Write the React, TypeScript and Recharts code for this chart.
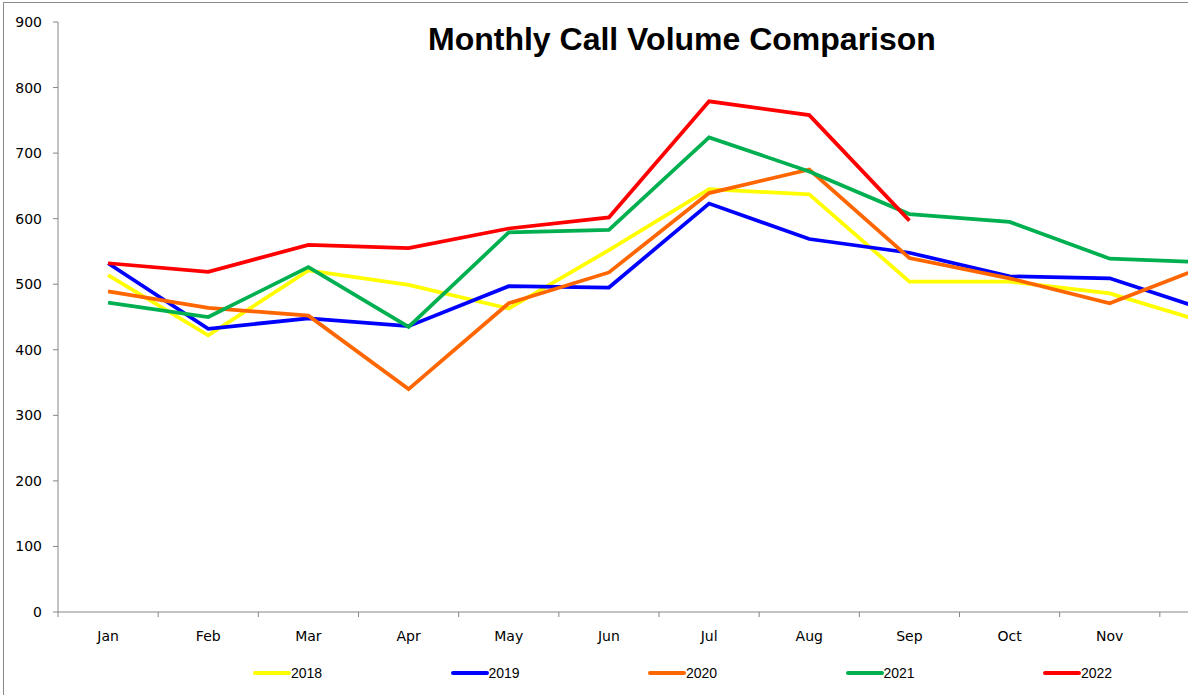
import { Legend, Line, LineChart, XAxis, YAxis } from "recharts";

const MONTHS = ["Jan", "Feb", "Mar", "Apr", "May", "Jun", "Jul", "Aug", "Sep", "Oct", "Nov", "Dec"];
const Y_TICKS = [0, 100, 200, 300, 400, 500, 600, 700, 800, 900];
const X_TICKS = [0, 1, 2, 3, 4, 5, 6, 7, 8, 9, 10, 11, 12];

const Y2018 = [514, 422, 521, 499, 463, 552, 645, 637, 504, 504, 486, 440];
const Y2019 = [532, 432, 448, 436, 497, 495, 623, 569, 548, 512, 509, 459];
const Y2020 = [489, 464, 452, 340, 471, 518, 639, 675, 540, 509, 471, 530];
const Y2021 = [472, 450, 526, 435, 579, 583, 724, 672, 607, 595, 539, 533];
const Y2022 = [532, 519, 560, 555, 585, 602, 779, 758, 597, null, null, null];

const SERIES = [
  { key: "2018", values: Y2018, color: "#FFFF00" },
  { key: "2019", values: Y2019, color: "#0000FF" },
  { key: "2020", values: Y2020, color: "#FF6600" },
  { key: "2021", values: Y2021, color: "#00B050" },
  { key: "2022", values: Y2022, color: "#FF0000" },
];

const data = MONTHS.map((m, i) => {
  const row: Record<string, number | string | null> = { x: i + 0.5, month: m };
  for (const s of SERIES) row[s.key] = s.values[i];
  return row;
});

const VIEW_W = 1188;
const CHART_W = 1280;
const MARGIN = { top: 22, right: 20, left: 0, bottom: 10 };
const Y_W = 58;
const BAND = (CHART_W - MARGIN.right - MARGIN.left - Y_W) / 12;

// labels sit in the middle of each month band; the ticks mark the band edges
function MonthTick(props: any) {
  const { x, y, payload } = props;
  const label = MONTHS[payload.value];
  const cx = x + BAND / 2;
  if (!label || cx + 16 > VIEW_W) return null;
  return (
    <text x={cx} y={y} dy={22} textAnchor="middle" fontFamily="DejaVu Sans" fontSize={14} fill="#000">
      {label}
    </text>
  );
}

function LegendBox() {
  return (
    <div style={{ display: "flex", paddingLeft: 253, height: 24, alignItems: "center" }}>
      {SERIES.map((s) => (
        <div key={s.key} style={{ width: 197.5, display: "flex", alignItems: "center" }}>
          <svg width={38} height={8} style={{ display: "block" }}>
            <line x1={2} y1={4} x2={36} y2={4} stroke={s.color} strokeWidth={4} strokeLinecap="round" />
          </svg>
          <span style={{ fontFamily: "Liberation Sans", fontSize: 14, color: "#000" }}>{s.key}</span>
        </div>
      ))}
    </div>
  );
}

export default function App() {
  return (
    <div
      style={{
        position: "absolute",
        left: 0,
        top: 0,
        width: VIEW_W,
        height: 695,
        overflow: "hidden",
        background: "#fff",
      }}
    >
      <div
        style={{
          position: "absolute",
          left: 3,
          top: 2,
          width: 1400,
          height: 800,
          border: "1px solid #8a8a8a",
        }}
      />
      <div
        style={{
          position: "absolute",
          left: 428,
          top: 23,
          fontFamily: "Liberation Sans",
          fontWeight: "bold",
          fontSize: 32,
          lineHeight: "32px",
          whiteSpace: "nowrap",
          color: "#000",
        }}
      >
        Monthly Call Volume Comparison
      </div>
      <div style={{ position: "absolute", left: 0, top: 0 }}>
        <LineChart width={CHART_W} height={695} data={data} margin={MARGIN}>
          <XAxis
            dataKey="x"
            type="number"
            domain={[0, 12]}
            ticks={X_TICKS}
            interval={0}
            tick={<MonthTick />}
            tickSize={5}
            height={49}
            stroke="#868686"
            axisLine={{ stroke: "#868686" }}
            tickLine={{ stroke: "#868686" }}
          />
          <YAxis
            domain={[0, 900]}
            ticks={Y_TICKS}
            interval={0}
            width={Y_W}
            tickSize={5}
            tickMargin={11}
            axisLine={{ stroke: "#868686" }}
            tickLine={{ stroke: "#868686" }}
            tick={{ fill: "#000", fontFamily: "DejaVu Sans", fontSize: 14 }}
          />
          <Legend verticalAlign="bottom" content={<LegendBox />} />
          {SERIES.map((s) => (
            <Line
              key={s.key}
              dataKey={s.key}
              type="linear"
              stroke={s.color}
              strokeWidth={3.75}
              dot={false}
              activeDot={false}
              isAnimationActive={false}
            />
          ))}
        </LineChart>
      </div>
    </div>
  );
}
